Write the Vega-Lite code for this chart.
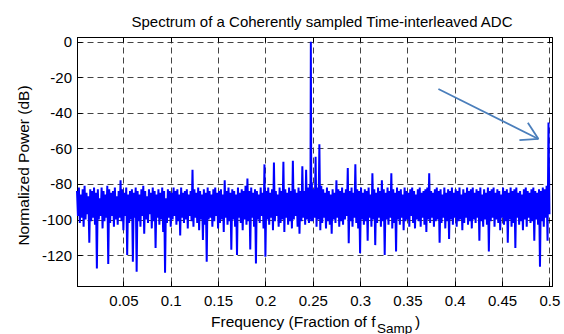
{
  "$schema": "https://vega.github.io/schema/vega-lite/v6.json",
  "width": 475,
  "height": 249,
  "autosize": {"type": "none"},
  "padding": {"left": 77, "top": 37, "right": 12, "bottom": 48},
  "background": "white",
  "title": {"text": "Spectrum of a Coherently sampled Time-interleaved ADC", "anchor": "start", "dx": 115, "dy": 20.5, "offset": 13.5, "baseline": "alphabetic", "font": "Liberation Sans", "fontSize": 15, "fontWeight": "normal", "color": "black"},
  "config": {
    "view": {"stroke": "black", "strokeWidth": 1},
    "font": "Liberation Sans",
    "axis": {"labelFont": "Liberation Sans", "titleFont": "Liberation Sans", "labelColor": "black", "titleColor": "black", "titleFontWeight": "normal", "domainColor": "black", "tickColor": "black", "domainWidth": 1, "tickWidth": 1}
  },
  "datasets": {
    "spec": [
{"f":0.001,"p":-84},{"f":0.002,"p":-98},{"f":0.003,"p":-82},{"f":0.004,"p":-102},{"f":0.005,"p":-86},{"f":0.006,"p":-99},{"f":0.007,"p":-83},{"f":0.008,"p":-104},{"f":0.009,"p":-81},{"f":0.010,"p":-100},
{"f":0.011,"p":-85},{"f":0.012,"p":-97},{"f":0.013,"p":-87},{"f":0.014,"p":-113},{"f":0.015,"p":-83},{"f":0.016,"p":-101},{"f":0.017,"p":-84},{"f":0.018,"p":-99},{"f":0.019,"p":-82},{"f":0.020,"p":-103},
{"f":0.021,"p":-85},{"f":0.022,"p":-127.5},{"f":0.023,"p":-83},{"f":0.024,"p":-100},{"f":0.025,"p":-88},{"f":0.026,"p":-98},{"f":0.027,"p":-82},{"f":0.028,"p":-105},{"f":0.029,"p":-84},{"f":0.030,"p":-101},
{"f":0.031,"p":-86},{"f":0.032,"p":-99},{"f":0.033,"p":-81},{"f":0.034,"p":-125},{"f":0.035,"p":-83},{"f":0.036,"p":-102},{"f":0.037,"p":-85},{"f":0.038,"p":-98},{"f":0.039,"p":-84},{"f":0.040,"p":-104},
{"f":0.041,"p":-82},{"f":0.042,"p":-100},{"f":0.043,"p":-87},{"f":0.044,"p":-103},{"f":0.045,"p":-84},{"f":0.046,"p":-99},{"f":0.047,"p":-78},{"f":0.048,"p":-101},{"f":0.049,"p":-83},{"f":0.050,"p":-106},
{"f":0.051,"p":-85},{"f":0.052,"p":-98},{"f":0.053,"p":-82},{"f":0.054,"p":-120},{"f":0.055,"p":-86},{"f":0.056,"p":-102},{"f":0.057,"p":-84},{"f":0.058,"p":-100},{"f":0.059,"p":-83},{"f":0.060,"p":-123.7},
{"f":0.061,"p":-85},{"f":0.062,"p":-99},{"f":0.063,"p":-82},{"f":0.064,"p":-129.4},{"f":0.065,"p":-84},{"f":0.066,"p":-101},{"f":0.067,"p":-86},{"f":0.068,"p":-104},{"f":0.069,"p":-83},{"f":0.070,"p":-98},
{"f":0.071,"p":-81},{"f":0.072,"p":-108},{"f":0.073,"p":-84},{"f":0.074,"p":-100},{"f":0.075,"p":-87},{"f":0.076,"p":-102},{"f":0.077,"p":-83},{"f":0.078,"p":-97},{"f":0.079,"p":-85},{"f":0.080,"p":-105},
{"f":0.081,"p":-82},{"f":0.082,"p":-101},{"f":0.083,"p":-84},{"f":0.084,"p":-116},{"f":0.085,"p":-86},{"f":0.086,"p":-99},{"f":0.087,"p":-83},{"f":0.088,"p":-103},{"f":0.089,"p":-85},{"f":0.090,"p":-100},
{"f":0.091,"p":-82},{"f":0.092,"p":-107},{"f":0.093,"p":-84},{"f":0.094,"p":-130},{"f":0.095,"p":-88},{"f":0.096,"p":-102},{"f":0.097,"p":-83},{"f":0.098,"p":-99},{"f":0.099,"p":-84},{"f":0.100,"p":-104},
{"f":0.101,"p":-85},{"f":0.102,"p":-100},{"f":0.103,"p":-82},{"f":0.104,"p":-98},{"f":0.105,"p":-84},{"f":0.106,"p":-103},{"f":0.107,"p":-83},{"f":0.108,"p":-101},{"f":0.109,"p":-86},{"f":0.110,"p":-109},
{"f":0.111,"p":-82},{"f":0.112,"p":-99},{"f":0.113,"p":-85},{"f":0.114,"p":-102},{"f":0.115,"p":-84},{"f":0.116,"p":-100},{"f":0.117,"p":-83},{"f":0.118,"p":-105},{"f":0.119,"p":-86},{"f":0.120,"p":-98},
{"f":0.121,"p":-84},{"f":0.122,"p":-101},{"f":0.123,"p":-72},{"f":0.124,"p":-104},{"f":0.125,"p":-83},{"f":0.126,"p":-99},{"f":0.127,"p":-85},{"f":0.128,"p":-102},{"f":0.129,"p":-82},{"f":0.130,"p":-106},
{"f":0.131,"p":-84},{"f":0.132,"p":-100},{"f":0.133,"p":-86},{"f":0.134,"p":-111.5},{"f":0.135,"p":-83},{"f":0.136,"p":-103},{"f":0.137,"p":-85},{"f":0.138,"p":-123.7},{"f":0.139,"p":-82},{"f":0.140,"p":-100},
{"f":0.141,"p":-84},{"f":0.142,"p":-99},{"f":0.143,"p":-86},{"f":0.144,"p":-104},{"f":0.145,"p":-83},{"f":0.146,"p":-101},{"f":0.147,"p":-82},{"f":0.148,"p":-98},{"f":0.149,"p":-85},{"f":0.150,"p":-105},
{"f":0.151,"p":-84},{"f":0.152,"p":-102},{"f":0.153,"p":-83},{"f":0.154,"p":-100},{"f":0.155,"p":-86},{"f":0.156,"p":-107},{"f":0.157,"p":-78},{"f":0.158,"p":-99},{"f":0.159,"p":-84},{"f":0.160,"p":-103},
{"f":0.161,"p":-82},{"f":0.162,"p":-101},{"f":0.163,"p":-85},{"f":0.164,"p":-117},{"f":0.165,"p":-83},{"f":0.166,"p":-100},{"f":0.167,"p":-84},{"f":0.168,"p":-104},{"f":0.169,"p":-86},{"f":0.170,"p":-120},
{"f":0.171,"p":-82},{"f":0.172,"p":-99},{"f":0.173,"p":-85},{"f":0.174,"p":-102},{"f":0.175,"p":-83},{"f":0.176,"p":-106},{"f":0.177,"p":-84},{"f":0.178,"p":-100},{"f":0.179,"p":-81},{"f":0.180,"p":-103},
{"f":0.181,"p":-77},{"f":0.182,"p":-101},{"f":0.183,"p":-84},{"f":0.184,"p":-116.8},{"f":0.185,"p":-82},{"f":0.186,"p":-99},{"f":0.187,"p":-85},{"f":0.188,"p":-104},{"f":0.189,"p":-83},{"f":0.190,"p":-124.7},
{"f":0.191,"p":-84},{"f":0.192,"p":-100},{"f":0.193,"p":-86},{"f":0.194,"p":-102},{"f":0.195,"p":-82},{"f":0.196,"p":-98},{"f":0.197,"p":-85},{"f":0.198,"p":-105},{"f":0.199,"p":-69},{"f":0.200,"p":-121},
{"f":0.201,"p":-84},{"f":0.202,"p":-100},{"f":0.203,"p":-82},{"f":0.204,"p":-103},{"f":0.205,"p":-85},{"f":0.206,"p":-99},{"f":0.207,"p":-83},{"f":0.208,"p":-106},{"f":0.209,"p":-68},{"f":0.210,"p":-101},
{"f":0.211,"p":-84},{"f":0.212,"p":-98},{"f":0.213,"p":-86},{"f":0.214,"p":-104},{"f":0.215,"p":-82},{"f":0.216,"p":-102},{"f":0.217,"p":-84},{"f":0.218,"p":-100},{"f":0.219,"p":-67.5},{"f":0.220,"p":-107},
{"f":0.221,"p":-83},{"f":0.222,"p":-99},{"f":0.223,"p":-85},{"f":0.224,"p":-103},{"f":0.225,"p":-82},{"f":0.226,"p":-101},{"f":0.227,"p":-84},{"f":0.228,"p":-105},{"f":0.229,"p":-67},{"f":0.230,"p":-100},
{"f":0.231,"p":-83},{"f":0.232,"p":-98},{"f":0.233,"p":-85},{"f":0.234,"p":-104},{"f":0.235,"p":-82},{"f":0.236,"p":-108},{"f":0.237,"p":-84},{"f":0.238,"p":-101},{"f":0.239,"p":-70},{"f":0.240,"p":-99},
{"f":0.241,"p":-84},{"f":0.242,"p":-103},{"f":0.243,"p":-72},{"f":0.244,"p":-100},{"f":0.245,"p":-82},{"f":0.246,"p":-102},{"f":0.247,"p":-80},{"f":0.2475,"p":-100},{"f":0.248,"p":0},{"f":0.2485,"p":-101},{"f":0.249,"p":-79},{"f":0.250,"p":-101},
{"f":0.251,"p":-83},{"f":0.252,"p":-99},{"f":0.253,"p":-64.7},{"f":0.254,"p":-104},{"f":0.255,"p":-82},{"f":0.256,"p":-100},{"f":0.257,"p":-57.7},{"f":0.258,"p":-106},{"f":0.259,"p":-81},{"f":0.260,"p":-102},
{"f":0.261,"p":-83},{"f":0.262,"p":-99},{"f":0.263,"p":-85},{"f":0.264,"p":-105},{"f":0.265,"p":-82},{"f":0.266,"p":-101},{"f":0.267,"p":-84},{"f":0.268,"p":-103},{"f":0.269,"p":-86},{"f":0.270,"p":-108},
{"f":0.271,"p":-83},{"f":0.272,"p":-100},{"f":0.273,"p":-85},{"f":0.274,"p":-102},{"f":0.275,"p":-78},{"f":0.276,"p":-99},{"f":0.277,"p":-83},{"f":0.278,"p":-104},{"f":0.279,"p":-84},{"f":0.280,"p":-101},
{"f":0.281,"p":-82},{"f":0.282,"p":-103},{"f":0.283,"p":-85},{"f":0.284,"p":-100},{"f":0.285,"p":-83},{"f":0.286,"p":-98},{"f":0.287,"p":-71},{"f":0.288,"p":-113.4},{"f":0.289,"p":-84},{"f":0.290,"p":-101},
{"f":0.291,"p":-82},{"f":0.292,"p":-104},{"f":0.293,"p":-85},{"f":0.294,"p":-99},{"f":0.295,"p":-69},{"f":0.296,"p":-102},{"f":0.297,"p":-83},{"f":0.298,"p":-105},{"f":0.299,"p":-84},{"f":0.300,"p":-119},
{"f":0.301,"p":-82},{"f":0.302,"p":-100},{"f":0.303,"p":-85},{"f":0.304,"p":-103},{"f":0.305,"p":-83},{"f":0.306,"p":-101},{"f":0.307,"p":-84},{"f":0.308,"p":-112},{"f":0.309,"p":-82},{"f":0.310,"p":-99},
{"f":0.311,"p":-86},{"f":0.312,"p":-104},{"f":0.313,"p":-74},{"f":0.314,"p":-100},{"f":0.315,"p":-83},{"f":0.316,"p":-114.4},{"f":0.317,"p":-85},{"f":0.318,"p":-102},{"f":0.319,"p":-82},{"f":0.320,"p":-99},
{"f":0.321,"p":-84},{"f":0.322,"p":-104},{"f":0.323,"p":-78},{"f":0.324,"p":-101},{"f":0.325,"p":-83},{"f":0.326,"p":-120},{"f":0.327,"p":-85},{"f":0.328,"p":-100},{"f":0.329,"p":-82},{"f":0.330,"p":-103},
{"f":0.331,"p":-84},{"f":0.332,"p":-99},{"f":0.333,"p":-74},{"f":0.334,"p":-105},{"f":0.335,"p":-83},{"f":0.336,"p":-102},{"f":0.337,"p":-85},{"f":0.338,"p":-118},{"f":0.339,"p":-82},{"f":0.340,"p":-100},
{"f":0.341,"p":-84},{"f":0.342,"p":-103},{"f":0.343,"p":-83},{"f":0.344,"p":-99},{"f":0.345,"p":-86},{"f":0.346,"p":-106},{"f":0.347,"p":-82},{"f":0.348,"p":-101},{"f":0.349,"p":-84},{"f":0.350,"p":-100},
{"f":0.351,"p":-85},{"f":0.352,"p":-104},{"f":0.353,"p":-83},{"f":0.354,"p":-98},{"f":0.355,"p":-82},{"f":0.356,"p":-102},{"f":0.357,"p":-84},{"f":0.358,"p":-105},{"f":0.359,"p":-86},{"f":0.360,"p":-100},
{"f":0.361,"p":-83},{"f":0.362,"p":-101},{"f":0.363,"p":-82},{"f":0.364,"p":-104},{"f":0.365,"p":-85},{"f":0.366,"p":-99},{"f":0.367,"p":-84},{"f":0.368,"p":-103},{"f":0.369,"p":-83},{"f":0.370,"p":-107},
{"f":0.371,"p":-82},{"f":0.372,"p":-100},{"f":0.373,"p":-74},{"f":0.374,"p":-102},{"f":0.375,"p":-84},{"f":0.376,"p":-99},{"f":0.377,"p":-85},{"f":0.378,"p":-104},{"f":0.379,"p":-83},{"f":0.380,"p":-101},
{"f":0.381,"p":-82},{"f":0.382,"p":-100},{"f":0.383,"p":-84},{"f":0.384,"p":-113},{"f":0.385,"p":-83},{"f":0.386,"p":-102},{"f":0.387,"p":-86},{"f":0.388,"p":-99},{"f":0.389,"p":-82},{"f":0.390,"p":-105},
{"f":0.391,"p":-85},{"f":0.392,"p":-101},{"f":0.393,"p":-83},{"f":0.394,"p":-111},{"f":0.395,"p":-84},{"f":0.396,"p":-100},{"f":0.397,"p":-82},{"f":0.398,"p":-103},{"f":0.399,"p":-85},{"f":0.400,"p":-99},
{"f":0.401,"p":-83},{"f":0.402,"p":-104},{"f":0.403,"p":-84},{"f":0.404,"p":-101},{"f":0.405,"p":-82},{"f":0.406,"p":-100},{"f":0.407,"p":-86},{"f":0.408,"p":-106},{"f":0.409,"p":-83},{"f":0.410,"p":-102},
{"f":0.411,"p":-85},{"f":0.412,"p":-99},{"f":0.413,"p":-82},{"f":0.414,"p":-103},{"f":0.415,"p":-84},{"f":0.416,"p":-101},{"f":0.417,"p":-83},{"f":0.418,"p":-105},{"f":0.419,"p":-82},{"f":0.420,"p":-100},
{"f":0.421,"p":-85},{"f":0.422,"p":-102},{"f":0.423,"p":-83},{"f":0.424,"p":-99},{"f":0.425,"p":-84},{"f":0.426,"p":-112},{"f":0.427,"p":-82},{"f":0.428,"p":-101},{"f":0.429,"p":-86},{"f":0.430,"p":-104},
{"f":0.431,"p":-83},{"f":0.432,"p":-100},{"f":0.433,"p":-85},{"f":0.434,"p":-103},{"f":0.435,"p":-82},{"f":0.436,"p":-118},{"f":0.437,"p":-84},{"f":0.438,"p":-101},{"f":0.439,"p":-83},{"f":0.440,"p":-99},
{"f":0.441,"p":-82},{"f":0.442,"p":-104},{"f":0.443,"p":-85},{"f":0.444,"p":-100},{"f":0.445,"p":-83},{"f":0.446,"p":-102},{"f":0.447,"p":-84},{"f":0.448,"p":-106},{"f":0.449,"p":-86},{"f":0.450,"p":-99},
{"f":0.451,"p":-82},{"f":0.452,"p":-103},{"f":0.453,"p":-84},{"f":0.454,"p":-101},{"f":0.455,"p":-83},{"f":0.456,"p":-113},{"f":0.457,"p":-85},{"f":0.458,"p":-100},{"f":0.459,"p":-82},{"f":0.460,"p":-104},
{"f":0.461,"p":-84},{"f":0.462,"p":-102},{"f":0.463,"p":-83},{"f":0.464,"p":-116},{"f":0.465,"p":-82},{"f":0.466,"p":-99},{"f":0.467,"p":-85},{"f":0.468,"p":-103},{"f":0.469,"p":-84},{"f":0.470,"p":-101},
{"f":0.471,"p":-86},{"f":0.472,"p":-106},{"f":0.473,"p":-83},{"f":0.474,"p":-100},{"f":0.475,"p":-82},{"f":0.476,"p":-104},{"f":0.477,"p":-84},{"f":0.478,"p":-99},{"f":0.479,"p":-85},{"f":0.480,"p":-102},
{"f":0.481,"p":-83},{"f":0.482,"p":-101},{"f":0.483,"p":-82},{"f":0.484,"p":-112},{"f":0.485,"p":-84},{"f":0.486,"p":-100},{"f":0.487,"p":-85},{"f":0.488,"p":-103},{"f":0.489,"p":-83},{"f":0.490,"p":-126.5},
{"f":0.491,"p":-84},{"f":0.492,"p":-101},{"f":0.493,"p":-82},{"f":0.494,"p":-104},{"f":0.495,"p":-83},{"f":0.496,"p":-99},{"f":0.497,"p":-81},{"f":0.498,"p":-112},{"f":0.499,"p":-45.5},{"f":0.500,"p":-97}
    ],
    "arrow": [
      {"xa": 0.3827, "ya": -26.6, "xb": 0.4884, "yb": -54.7}
    ],
    "head": [
      {"xa": 0.4884, "ya": -54.7, "xb": 0.4683, "yb": -55.3},
      {"xa": 0.4884, "ya": -54.7, "xb": 0.4772, "yb": -45.6}
    ]
  },
  "layer": [
    {
      "data": {"name": "spec"},
      "mark": {"type": "line", "color": "#0000ff", "strokeWidth": 2},
      "encoding": {
        "x": {"field": "f", "type": "quantitative", "scale": {"domain": [0.001, 0.5027], "nice": false, "zero": false},
          "axis": {"orient": "bottom", "values": [0.05, 0.1, 0.15, 0.2, 0.25, 0.3, 0.35, 0.4, 0.45, 0.5], "format": ".2~f", "ticks": false, "labelFontSize": 15, "labelBaseline": "alphabetic", "labelPadding": 19.7, "labelFlush": false, "labelOverlap": false, "grid": true, "gridDash": [6, 4], "gridColor": "#444", "gridOpacity": 1, "gridWidth": 1,
            "title": "Frequency (Fraction of f", "titleFontSize": 15.5, "titleAlign": "left", "titleBaseline": "alphabetic", "titleX": 133.5, "titleY": 40.7, "titleAnchor": null}},
        "y": {"field": "p", "type": "quantitative", "scale": {"domain": [-137.4, 2.65], "nice": false, "zero": false},
          "axis": {"orient": "left", "values": [-120, -100, -80, -60, -40, -20, 0], "labelExpr": "datum.value + ''", "ticks": false, "labelFontSize": 15, "labelPadding": 5.5, "grid": true, "gridDash": [6, 4], "gridColor": "#444", "gridOpacity": 1, "gridWidth": 1,
            "title": "Normalized Power (dB)", "titleFontSize": 15.5, "titleAngle": 270, "titleAlign": "center", "titleBaseline": "alphabetic", "titleX": -48.5, "titleY": 128}}
      }
    },
    {
      "data": {"name": "arrow"},
      "mark": {"type": "rule", "color": "#4a7ebb", "strokeWidth": 1.8},
      "encoding": {
        "x": {"field": "xa", "type": "quantitative", "scale": {"domain": [0.001, 0.5027], "nice": false, "zero": false},
          "axis": {"orient": "top", "values": [0.05, 0.1, 0.15, 0.2, 0.25, 0.3, 0.35, 0.4, 0.45, 0.5], "labels": false, "grid": false, "tickSize": -5,
            "title": "Samp", "titleFontSize": 13.5, "titleAlign": "left", "titleBaseline": "alphabetic", "titleX": 299.5, "titleY": 295}},
        "y": {"field": "ya", "type": "quantitative", "scale": {"domain": [-137.4, 2.65], "nice": false, "zero": false},
          "axis": {"orient": "right", "values": [-120, -100, -80, -60, -40, -20, 0], "labels": false, "grid": false, "tickSize": -5, "title": null}},
        "x2": {"field": "xb"},
        "y2": {"field": "yb"}
      }
    },
    {
      "data": {"name": "head"},
      "mark": {"type": "rule", "color": "#4a7ebb", "strokeWidth": 1.8},
      "encoding": {
        "x": {"field": "xa", "type": "quantitative", "scale": {"domain": [0.001, 0.5027], "nice": false, "zero": false},
          "axis": {"orient": "bottom", "values": [0.05, 0.1, 0.15, 0.2, 0.25, 0.3, 0.35, 0.4, 0.45, 0.5], "labels": false, "grid": false, "tickSize": -5,
            "title": ")", "titleFontSize": 15.5, "titleAlign": "left", "titleBaseline": "alphabetic", "titleX": 337.5, "titleY": 40.7}},
        "y": {"field": "ya", "type": "quantitative", "scale": {"domain": [-137.4, 2.65], "nice": false, "zero": false},
          "axis": {"orient": "left", "values": [-120, -100, -80, -60, -40, -20, 0], "labels": false, "grid": false, "tickSize": -5, "title": null}},
        "x2": {"field": "xb"},
        "y2": {"field": "yb"}
      }
    }
  ],
  "resolve": {"axis": {"x": "independent", "y": "independent"}}
}
